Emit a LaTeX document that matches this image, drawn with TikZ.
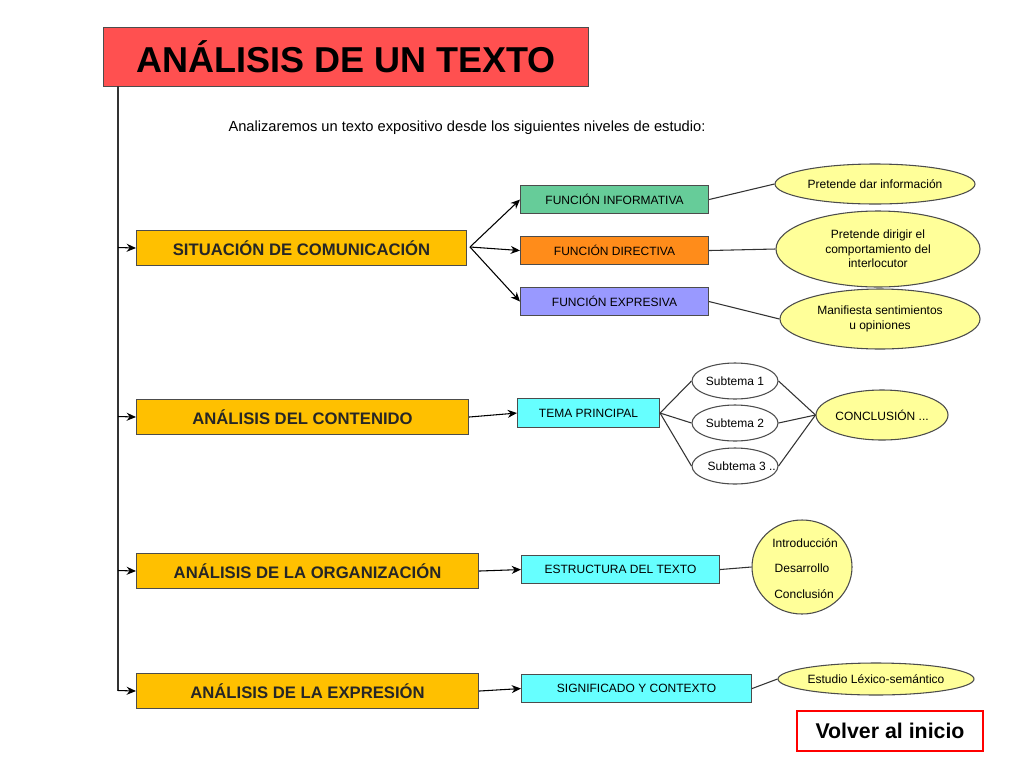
\documentclass[tikz,border=0pt]{standalone}
\usepackage{fontspec}
\setmainfont{Liberation Sans}
\usetikzlibrary{shapes.geometric,arrows.meta}
\definecolor{tred}{HTML}{FF5050}
\definecolor{gold}{HTML}{FFC000}
\definecolor{fgreen}{HTML}{66CC99}
\definecolor{forange}{HTML}{FF8C1A}
\definecolor{flav}{HTML}{9999FF}
\definecolor{fcyan}{HTML}{66FFFF}
\definecolor{fyel}{HTML}{FFFF99}
\tikzset{
 x=0.75pt,y=-0.75pt,
 box/.style={draw=black!70,line width=0.8pt,inner sep=0pt,anchor=north west},
 main/.style={box,fill=gold,font=\fontsize{12.5}{14}\selectfont\bfseries,text=black!85},
 fbox/.style={box,font=\fontsize{9}{10}\selectfont},
 ell/.style={draw=black!70,line width=0.8pt,ellipse,inner sep=0pt,align=center,font=\fontsize{9}{11}\selectfont},
 arr/.style={-{Stealth[length=7pt,width=6pt]},line width=0.8pt},
 ln/.style={line width=0.8pt,black!80},
}
\begin{document}
\begin{tikzpicture}
\useasboundingbox (0,0) rectangle (1024,768);
\node[box,fill=tred,minimum width=485*0.75pt,minimum height=59*0.75pt,font=\fontsize{27}{30}\selectfont\bfseries] (title) at (103,27) {ANÁLISIS DE UN TEXTO};
\node[font=\fontsize{11}{13}\selectfont] (sub) at (467,128) {Analizaremos un texto expositivo desde los siguientes niveles de estudio:};
\node[main,minimum width=330*0.75pt,minimum height=35*0.75pt] (m1) at (136,230) {SITUACIÓN DE COMUNICACIÓN};
\node[main,minimum width=332*0.75pt,minimum height=35*0.75pt] (m2) at (136,399) {ANÁLISIS DEL CONTENIDO};
\node[main,minimum width=342*0.75pt,minimum height=35*0.75pt] (m3) at (136,553) {ANÁLISIS DE LA ORGANIZACIÓN};
\node[main,minimum width=342*0.75pt,minimum height=35*0.75pt] (m4) at (136,673) {ANÁLISIS DE LA EXPRESIÓN};
\coordinate (top) at (118,86);
\coordinate (c1) at (118,247.5);
\coordinate (c2) at (118,416.5);
\coordinate (c3) at (118,570.5);
\coordinate (c4) at (118,690.5);
\draw[ln] (top) -- (c4);
\foreach \i in {1,...,4} \draw[arr] (c\i) -- (m\i.west);
% functions
\node[fbox,fill=fgreen,minimum width=188*0.75pt,minimum height=28*0.75pt] (f1) at (520,185) {FUNCIÓN INFORMATIVA};
\node[fbox,fill=forange,minimum width=188*0.75pt,minimum height=28*0.75pt] (f2) at (520,236) {FUNCIÓN DIRECTIVA};
\node[fbox,fill=flav,minimum width=188*0.75pt,minimum height=28*0.75pt] (f3) at (520,287) {FUNCIÓN EXPRESIVA};
\coordinate (s1) at (470,247);
\foreach \i in {1,2,3} \draw[arr] (s1) -- (f\i.west);
\node[ell,fill=fyel,minimum width=200*0.75pt,minimum height=40*0.75pt] (e1) at (875,184) {Pretende dar información};
\node[ell,fill=fyel,minimum width=204*0.75pt,minimum height=76*0.75pt] (e2) at (878,249) {Pretende dirigir el\\comportamiento del\\interlocutor};
\node[ell,fill=fyel,minimum width=200*0.75pt,minimum height=60*0.75pt] (e3) at (880,319) {Manifiesta sentimientos\\u opiniones};
\foreach \i in {1,2,3} \draw[ln] (f\i.east) -- (e\i.west);
% contenido
\node[fbox,fill=fcyan,minimum width=142*0.75pt,minimum height=29*0.75pt] (tp) at (517,398) {TEMA PRINCIPAL};
\draw[arr] (m2.east) -- (tp.west);
\node[ell,fill=white,minimum width=86*0.75pt,minimum height=36*0.75pt] (st1) at (735,381) {Subtema 1};
\node[ell,fill=white,minimum width=86*0.75pt,minimum height=36*0.75pt] (st2) at (735,423) {Subtema 2};
\node[ell,fill=white,minimum width=86*0.75pt,minimum height=36*0.75pt] (st3) at (735,466) {};
\node[font=\fontsize{9}{11}\selectfont,anchor=west] at (703,466) {Subtema 3 ..};
\node[ell,fill=fyel,minimum width=124*0.75pt,minimum height=50*0.75pt] (conc) at (882,415) {CONCLUSIÓN ...};
\foreach \i in {1,2,3} {\draw[ln] (tp.east) -- (st\i.west); \draw[ln] (st\i.east) -- (conc.west);}
% organizacion
\node[fbox,fill=fcyan,minimum width=198*0.75pt,minimum height=28*0.75pt] (est) at (521,555) {ESTRUCTURA DEL TEXTO};
\draw[arr] (m3.east) -- (est.west);
\node[ell,fill=fyel,minimum width=100*0.75pt,minimum height=94*0.75pt] (org) at (802,567) {};
\node[font=\fontsize{9}{11}\selectfont] at (805,543) {Introducción};
\node[font=\fontsize{9}{11}\selectfont] at (802,568) {Desarrollo};
\node[font=\fontsize{9}{11}\selectfont] at (804,594) {Conclusión};
\draw[ln] (est.east) -- (org.west);
% expresion
\node[fbox,fill=fcyan,minimum width=230*0.75pt,minimum height=28*0.75pt] (sig) at (521,674) {SIGNIFICADO Y CONTEXTO};
\draw[arr] (m4.east) -- (sig.west);
\node[ell,fill=fyel,minimum width=196*0.75pt,minimum height=32*0.75pt] (lex) at (876,679) {Estudio Léxico-semántico};
\draw[ln] (sig.east) -- (lex.west);
\node[box,draw=red,line width=1.5pt,fill=white,minimum width=186*0.75pt,minimum height=40*0.75pt,font=\fontsize{16}{18}\selectfont\bfseries] (volver) at (796,710) {Volver al inicio};
\end{tikzpicture}
\end{document}
